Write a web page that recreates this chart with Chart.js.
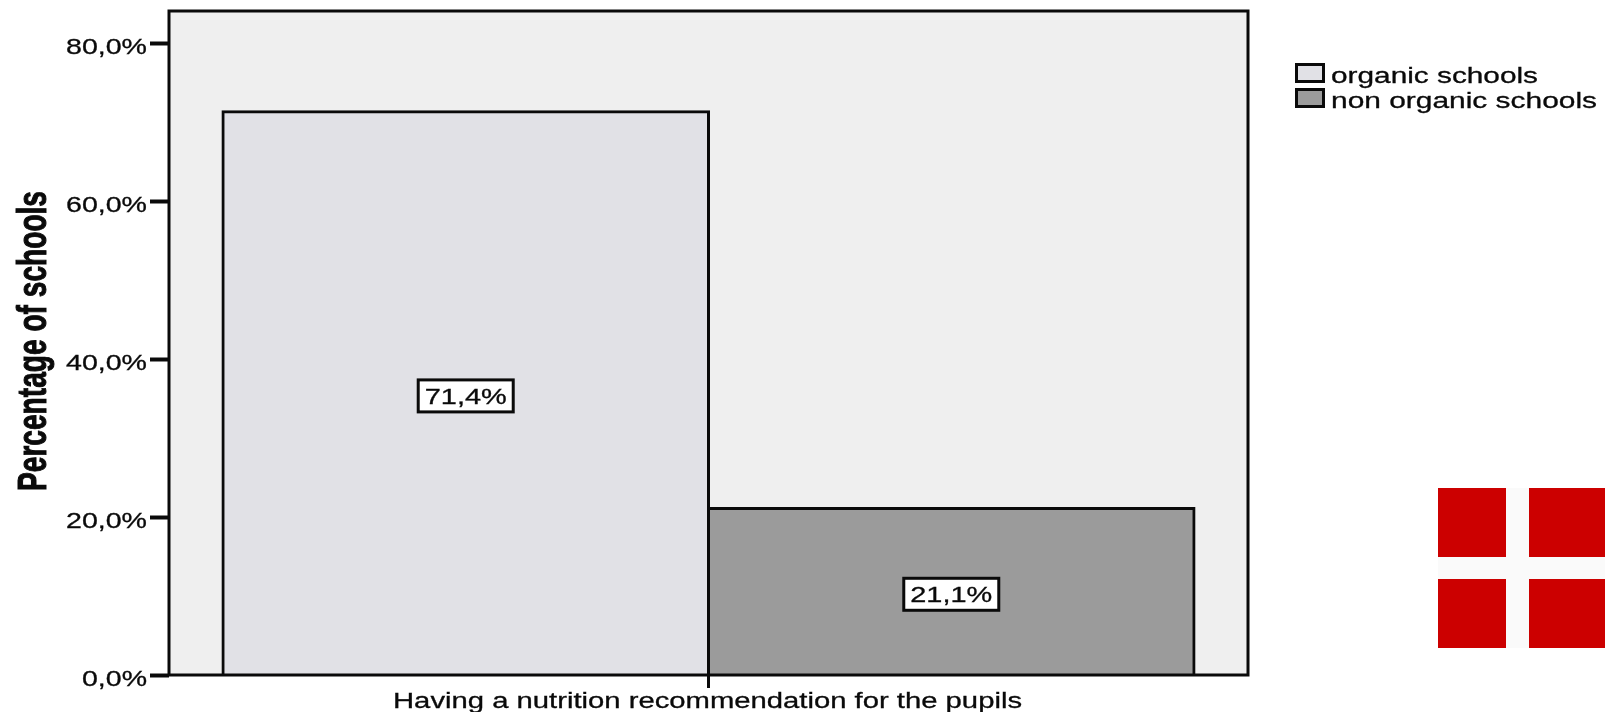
<!DOCTYPE html>
<html>
<head>
<meta charset="utf-8">
<title>Nutrition recommendation in schools</title>
<style>
  html, body { margin: 0; padding: 0; background: #fff; }
  #wrap { position: relative; width: 1605px; height: 712px; overflow: hidden; }
  canvas { display: block; }
</style>
<script src="https://cdn.jsdelivr.net/npm/chart.js@4"></script>
</head>
<body>
<div id="wrap"><canvas id="chart" width="1605" height="712"></canvas></div>
<script>
// Chart content
const categories = ['Having a nutrition recommendation for the pupils'];
const seriesNames = ['organic schools', 'non organic schools'];
const organicValues = [71.4];
const nonOrganicValues = [21.1];
const tickValues = [0, 20, 40, 60, 80];
const axisTitle = 'Percentage of schools';

const INK = '#0A0A0A';
const fillColors = ['#E1E1E6', '#9B9B9B'];
const plotBackground = '#EFEFEF';
const TEXT_FONT = '22px "Liberation Sans", Arial, sans-serif';
const TITLE_FONT = 'bold 41px "Liberation Sans", Arial, sans-serif';

const percent = v => v.toFixed(1).replace('.', ',') + '%';

// Draws text squeezed or widened horizontally so that it spans the given width.
// A positive weight thickens the glyphs with an outline of that size.
function fitText(ctx, text, x, baseline, font, width, align, weight) {
  ctx.save();
  ctx.font = font;
  ctx.textAlign = 'left';
  ctx.textBaseline = 'alphabetic';
  ctx.fillStyle = INK;
  const natural = ctx.measureText(text).width;
  const k = width / natural;
  const left = align === 'right' ? x - width : align === 'center' ? x - width / 2 : x;
  ctx.translate(left, baseline);
  ctx.scale(k, 1);
  ctx.fillText(text, 0, 0);
  if (weight) {
    ctx.strokeStyle = INK;
    ctx.lineWidth = weight;
    ctx.strokeText(text, 0, 0);
  }
  ctx.restore();
}

// Plot panel fill behind the bars
const panelBackground = {
  id: 'panelBackground',
  beforeDatasetsDraw(chart) {
    const { ctx, chartArea: a } = chart;
    ctx.save();
    ctx.fillStyle = plotBackground;
    ctx.fillRect(a.left, a.top, a.right - a.left, a.bottom - a.top);
    ctx.restore();
  }
};

// Panel frame, stretched axis text, value boxes, legend and flag
const annotations = {
  id: 'annotations',
  afterDraw(chart) {
    const { ctx, chartArea: a, scales: { x, y } } = chart;

    ctx.save();
    ctx.strokeStyle = INK;
    ctx.lineWidth = 3;
    ctx.strokeRect(a.left, a.top, a.right - a.left, a.bottom - a.top);
    ctx.restore();

    // value axis labels
    y.ticks.forEach(t => {
      const label = percent(t.value);
      const wide = label.length === 5 ? 81 : 65;
      fitText(ctx, label, 147, y.getPixelForValue(t.value) + 10.5, TEXT_FONT, wide, 'right', 0.3);
    });

    // category label
    fitText(ctx, categories[0], x.getPixelForValue(0) - 1, 708, TEXT_FONT, 629, 'center', 0.3);

    // rotated value axis title
    ctx.save();
    ctx.translate(46, 341);
    ctx.rotate(-Math.PI / 2);
    fitText(ctx, axisTitle, 0, 0, TITLE_FONT, 300, 'center', 1);
    ctx.restore();

    // boxed value labels at the middle of each bar
    chart.data.datasets.forEach((ds, i) => {
      const bar = chart.getDatasetMeta(i).data[0];
      const v = ds.data[0];
      const cx = bar.x;
      const cy = y.getPixelForValue(v / 2) + 2.5;
      ctx.save();
      ctx.fillStyle = '#FFFFFF';
      ctx.strokeStyle = INK;
      ctx.lineWidth = 3;
      ctx.fillRect(cx - 47.5, cy - 16, 95, 32);
      ctx.strokeRect(cx - 47.5, cy - 16, 95, 32);
      ctx.restore();
      fitText(ctx, percent(v), cx, cy + 8, TEXT_FONT, 82, 'center', 0.3);
    });

    // legend
    const textWidths = [207, 266];
    chart.data.datasets.forEach((ds, i) => {
      const top = 64.5 + i * 25;
      ctx.save();
      ctx.fillStyle = ds.backgroundColor;
      ctx.strokeStyle = INK;
      ctx.lineWidth = 3;
      ctx.fillRect(1296.5, top, 27, 17);
      ctx.strokeRect(1296.5, top, 27, 17);
      ctx.restore();
      fitText(ctx, ds.label, 1331, 82.5 + i * 25, TEXT_FONT, textWidths[i], 'left', 0.3);
    });

    // flag of Denmark
    ctx.save();
    ctx.beginPath();
    ctx.rect(1438, 488, 167, 160);
    ctx.clip();
    ctx.fillStyle = '#CC0000';
    ctx.fillRect(1438, 488, 167, 160);
    ctx.filter = 'blur(0.7px)';
    ctx.fillStyle = '#FAFAFA';
    ctx.fillRect(1506, 484, 23, 168);
    ctx.fillRect(1434, 557, 175, 22);
    ctx.restore();
  }
};

new Chart(document.getElementById('chart'), {
  type: 'bar',
  data: {
    labels: categories,
    datasets: [
      { label: seriesNames[0], data: organicValues, backgroundColor: fillColors[0], borderColor: INK, borderWidth: 3, inflateAmount: 1.5 },
      { label: seriesNames[1], data: nonOrganicValues, backgroundColor: fillColors[1], borderColor: INK, borderWidth: 3, inflateAmount: 1.5 }
    ]
  },
  options: {
    responsive: false,
    animation: false,
    events: [],
    categoryPercentage: 0.9,
    barPercentage: 1,
    layout: { padding: { top: 11, right: 357, left: 0, bottom: 0 } },
    plugins: { legend: { display: false }, title: { display: false }, tooltip: { enabled: false } },
    scales: {
      x: {
        grid: { offset: false, drawOnChartArea: false, drawTicks: true, tickLength: 13, tickWidth: 3, tickColor: INK },
        border: { display: false },
        ticks: { display: false },
        afterFit(scale) { scale.height = 37; }
      },
      y: {
        min: 0,
        max: 84.18,
        afterBuildTicks(scale) { scale.ticks = tickValues.map(value => ({ value })); },
        grid: { drawOnChartArea: false, drawTicks: true, tickLength: 19, tickWidth: 4, tickColor: INK },
        border: { display: false },
        ticks: { display: false },
        afterFit(scale) { scale.width = 169; }
      }
    }
  },
  plugins: [panelBackground, annotations]
});
</script>
</body>
</html>
